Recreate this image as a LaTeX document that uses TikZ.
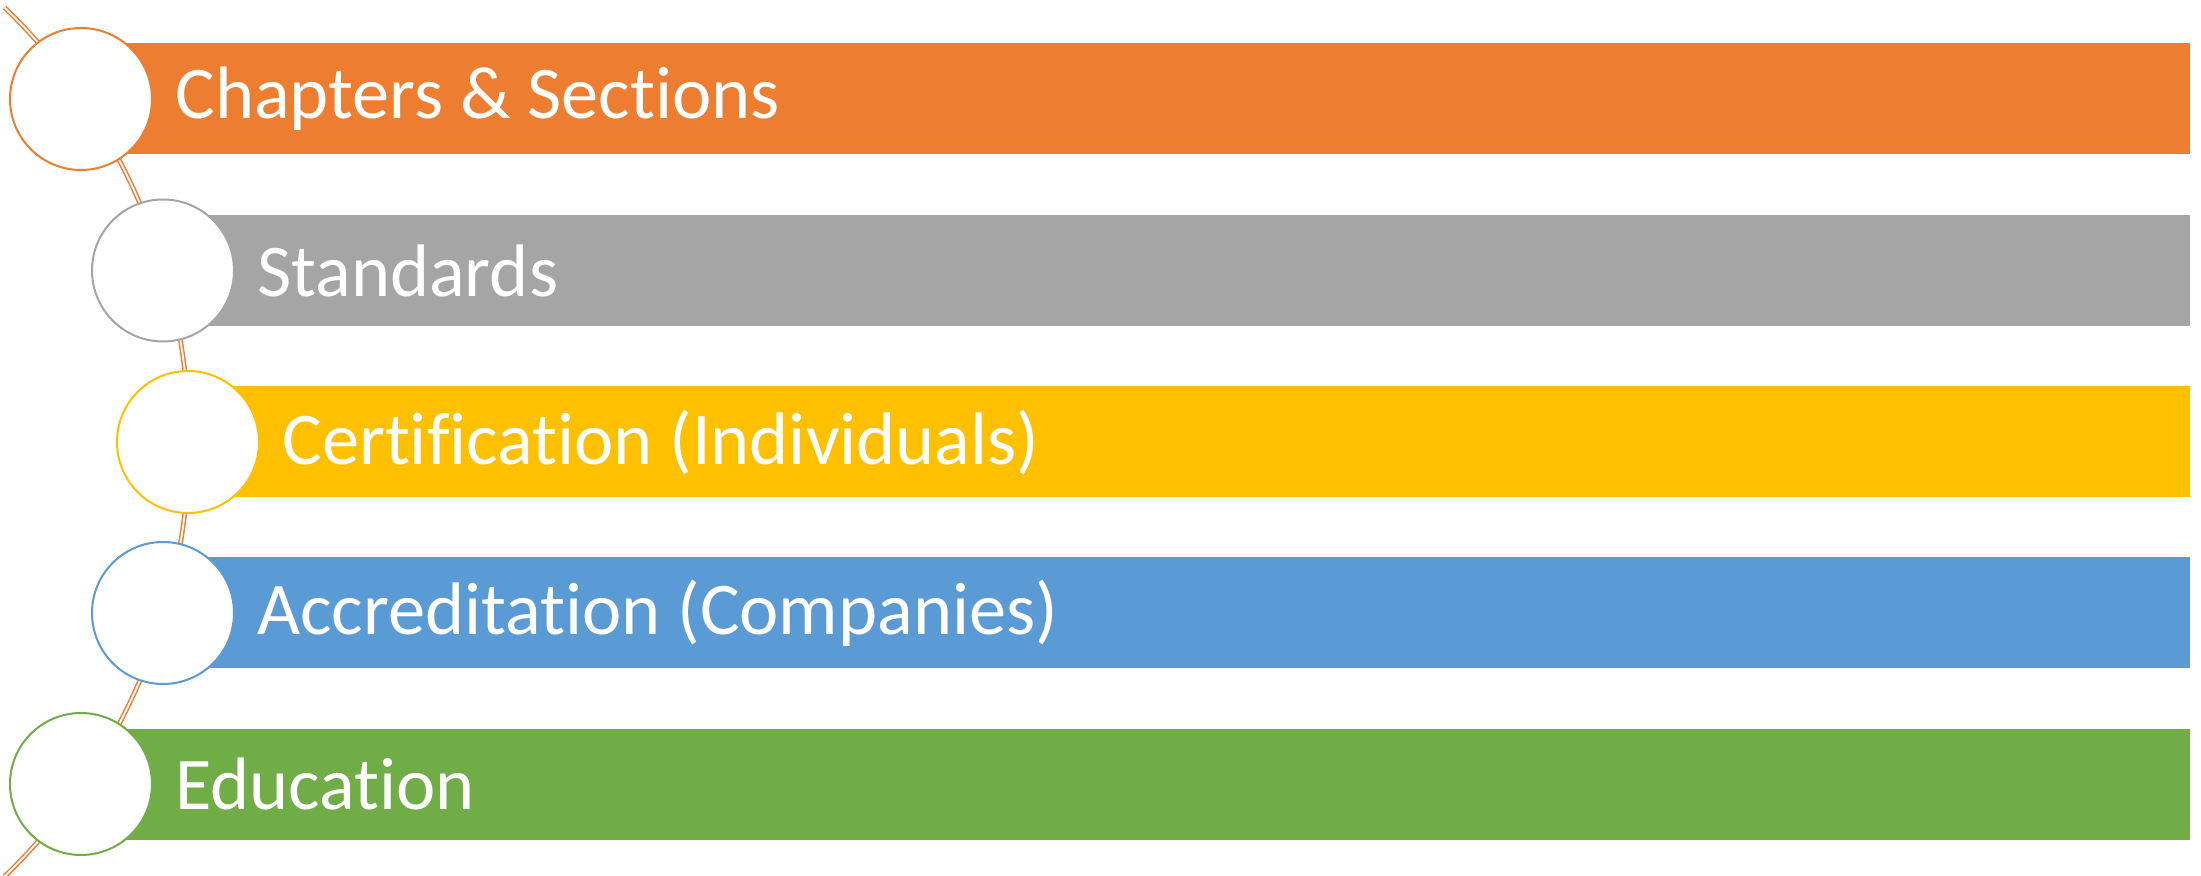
\documentclass[tikz,border=0pt]{standalone}
\usepackage{fontspec}
\setmainfont[Ligatures=NoCommon]{Carlito}
\definecolor{cOrange}{HTML}{ED7D31}
\definecolor{cGray}{HTML}{A5A5A5}
\definecolor{cYellow}{HTML}{FFC000}
\definecolor{cBlue}{HTML}{5B9BD5}
\definecolor{cGreen}{HTML}{70AD47}
\begin{document}
\begin{tikzpicture}[x=0.5pt,y=-0.5pt,
  barbox/.style={draw=none, inner sep=0pt, minimum width=1054.5pt, minimum height=55.5pt, anchor=west},
  dot/.style={circle, draw=#1, fill=white, line width=1pt, minimum size=71pt, inner sep=0pt},
  lbl/.style={anchor=west, text=white, inner sep=0pt, font=\fontsize{37.2}{44}\selectfont}]
\useasboundingbox (0,0) rectangle (2201,876);
\coordinate (arcc) at (-415,442);
\draw[cOrange, line width=0.75pt, double=white, double distance=0.9pt]
  (arcc) ++(-46:604) arc[start angle=-46, end angle=46, radius=604];
\node[barbox, fill=cOrange] (b1) at (81,99) {};
\node[barbox, fill=cGray, minimum width=1013.5pt] (b2) at (163,270.5) {};
\node[barbox, fill=cYellow, minimum width=1001pt] (b3) at (188,442) {};
\node[barbox, fill=cBlue, minimum width=1013.5pt] (b4) at (163,613) {};
\node[barbox, fill=cGreen] (b5) at (81,784) {};
\node[dot=cOrange] (c1) at (81,99) {};
\node[dot=cGray] (c2) at (163,270.5) {};
\node[dot=cYellow] (c3) at (188,442) {};
\node[dot=cBlue] (c4) at (163,613) {};
\node[dot=cGreen] (c5) at (81,784) {};
\node[lbl] (t1) at (175,99) {Chapters \& Sections};
\node[lbl] (t2) at (257,270.5) {Standards};
\node[lbl] (t3) at (282,442) {Certification (Individuals)};
\node[lbl] (t4) at (257,613) {Accreditation (Companies)};
\node[lbl] (t5) at (175,784) {Education};
\end{tikzpicture}
\end{document}
